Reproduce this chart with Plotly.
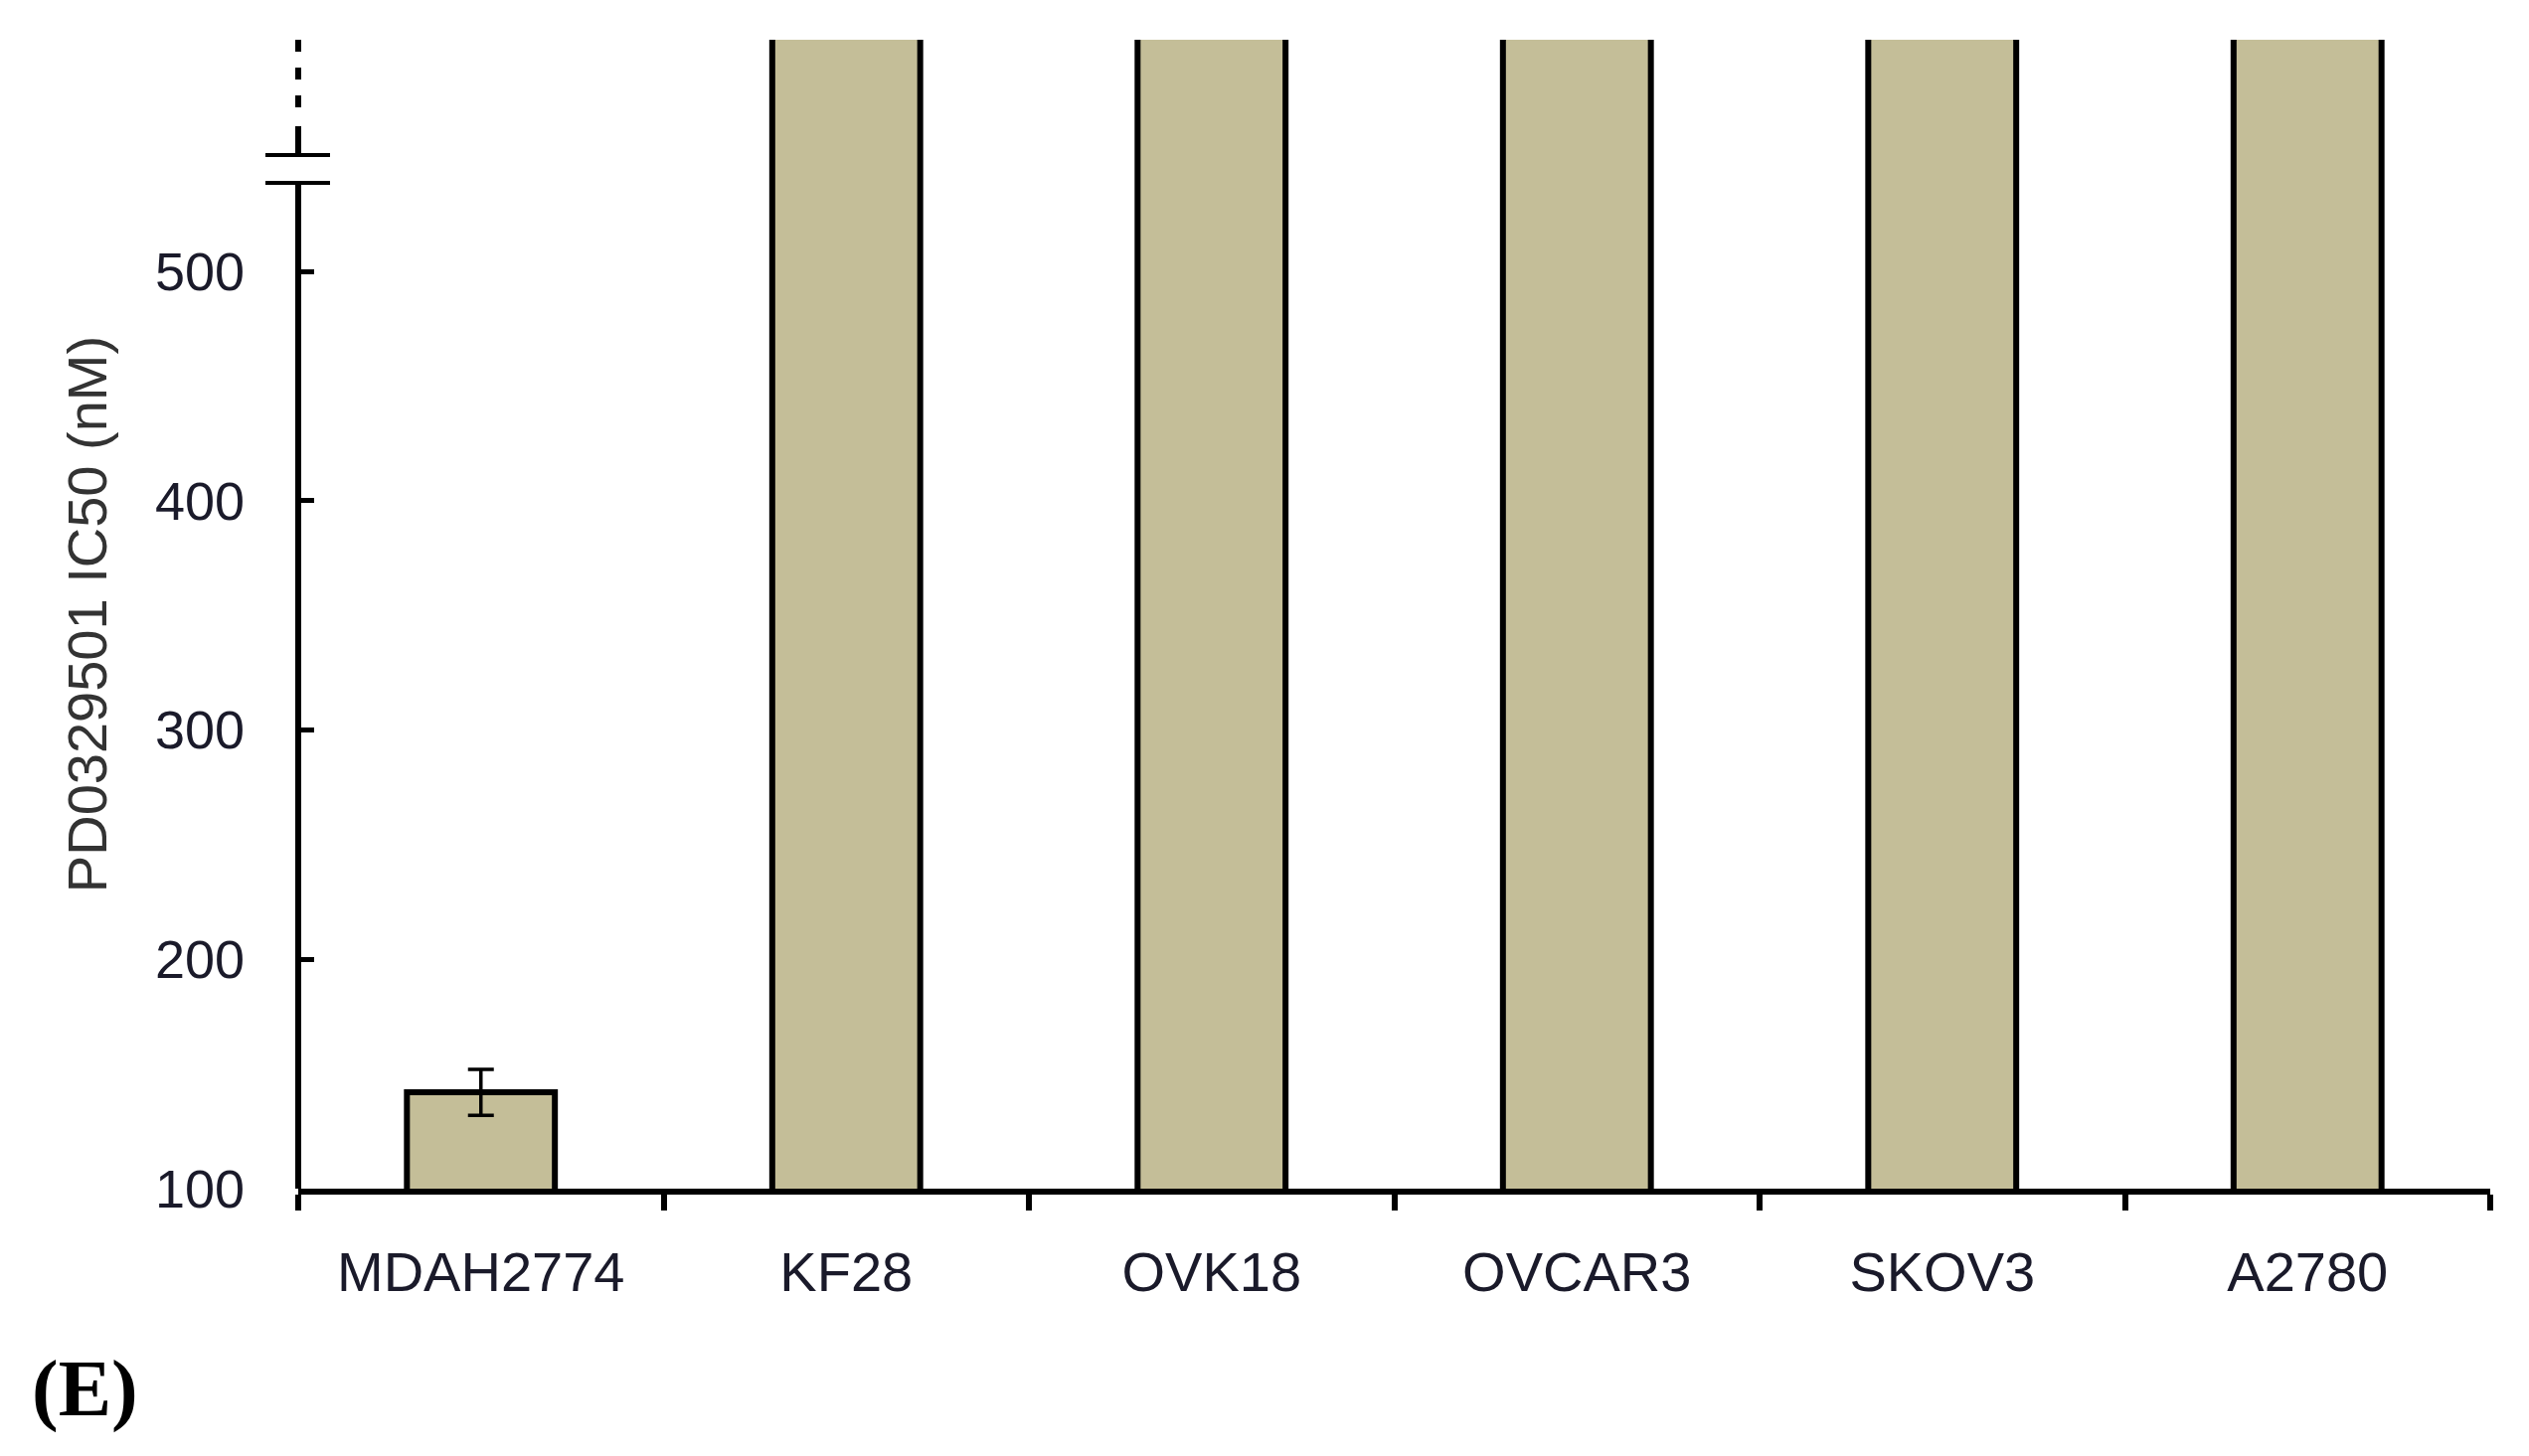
import plotly.graph_objects as go

categories = ["MDAH2774", "KF28", "OVK18", "OVCAR3", "SKOV3", "A2780"]
ic50_values = [142, 1000, 1000, 1000, 1000, 1000]   # >600 nM bars run off the broken axis
ic50_errors = [10, 0, 0, 0, 0, 0]
y_tick_values = [100, 200, 300, 400, 500]
y_range = [100, 601]
break_low, break_high, solid_top, dotted_bottom = 538.6, 550.7, 563.3, 571.5

bar_fill = "#C4BE98"
font_family = "Liberation Sans, Arial, sans-serif"

fig = go.Figure()
fig.add_trace(go.Bar(
    x=categories, y=ic50_values, width=0.405,
    marker=dict(color=bar_fill, line=dict(color="black", width=6)),
    error_y=dict(type="data", array=ic50_errors, visible=True,
                 color="black", thickness=3.5, width=13),
    showlegend=False,
))

# y-axis drawn with a break
shapes = [
    dict(type="line", xref="paper", yref="y", x0=0, x1=0, y0=y_range[0], y1=break_low,
         line=dict(color="black", width=6)),
    dict(type="line", xref="paper", yref="y", x0=0, x1=0, y0=break_high, y1=solid_top,
         line=dict(color="black", width=6)),
    dict(type="line", xref="paper", yref="y", x0=0, x1=0, y0=dotted_bottom, y1=y_range[1],
         line=dict(color="black", width=6, dash="12px,16px")),
]
for yb in (break_low, break_high):
    shapes.append(dict(type="line", xref="paper", yref="y", xsizemode="pixel", xanchor=0,
                       x0=-33, x1=32, y0=yb, y1=yb, line=dict(color="black", width=4)))

fig.update_layout(
    width=2536, height=1457,
    margin=dict(l=292, r=39, t=32, b=269),
    plot_bgcolor="white", paper_bgcolor="white",
    bargap=0.6,
    shapes=shapes,
    xaxis=dict(
        range=[-0.5, 5.5], showline=True, linecolor="black", linewidth=6,
        ticks="outside", tickson="boundaries", ticklen=16, tickwidth=6, tickcolor="black",
        tickfont=dict(family=font_family, size=56, color="#1a1a2a"),
        ticklabelstandoff=30, showgrid=False, zeroline=False,
    ),
    yaxis=dict(
        range=y_range, showline=False,
        tickvals=y_tick_values, ticks="inside", ticklen=16, tickwidth=5, tickcolor="black",
        tickfont=dict(family=font_family, size=54, color="#1a1a2a"),
        ticklabelstandoff=53, showgrid=False, zeroline=False,
        title=dict(text="PD0329501 IC50 (nM)", standoff=30,
                   font=dict(family=font_family, size=56, color="#333333")),
    ),
    annotations=[dict(text="<b>(E)</b>", xref="paper", yref="paper", x=(22-292)/2205, y=-(1389-1188)/1156,
                      xanchor="left", yanchor="middle", showarrow=False,
                      font=dict(family="Liberation Serif, Times New Roman, serif", size=80, color="black"))],
)

fig.write_html("out.html")
